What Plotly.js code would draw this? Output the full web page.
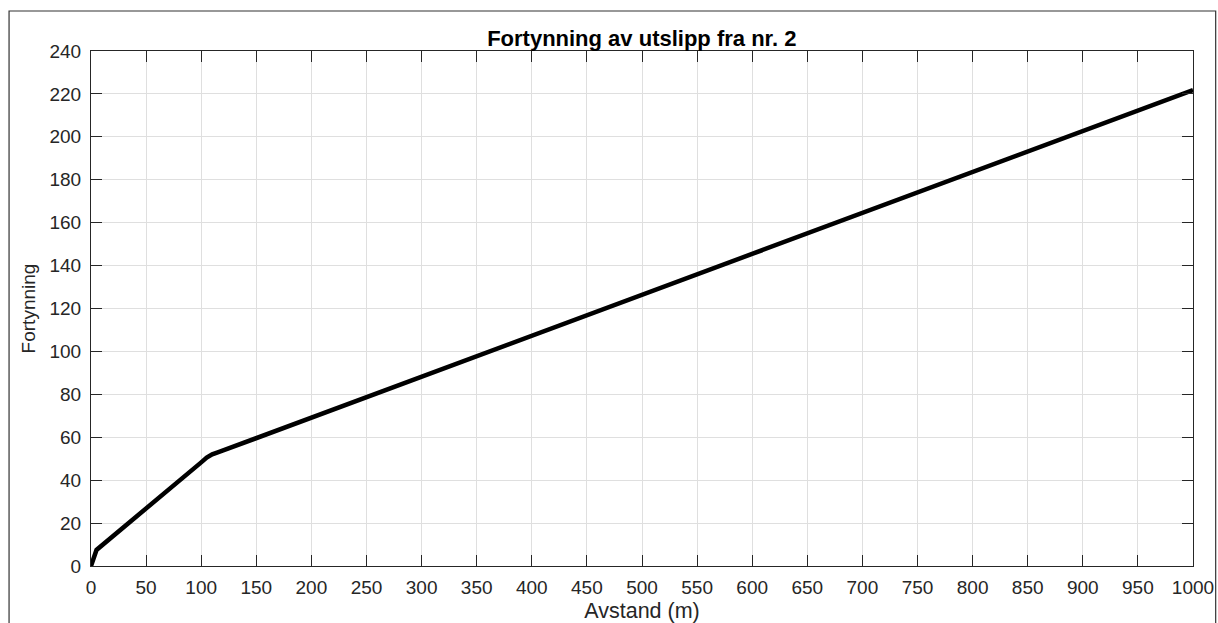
<!DOCTYPE html>
<html>
<head>
<meta charset="utf-8">
<script src="https://cdn.plot.ly/plotly-3.0.1.min.js"></script>
<style>
html,body{margin:0;padding:0;background:#fff;}
#chart{width:1218px;height:623px;}
</style>
</head>
<body>
<div id="chart"></div>
<script>
// Data
const avstand = [0, 5, 100, 105, 110, 115, 1000];
const fortynning = [0, 7.5, 48.3, 50.5, 52.0, 52.9, 221.8];
const xTicks = [0,50,100,150,200,250,300,350,400,450,500,550,600,650,700,750,800,850,900,950,1000];
const yTicks = [0,20,40,60,80,100,120,140,160,180,200,220,240];
const titleText = "Fortynning av utslipp fra nr. 2";
const xLabel = "Avstand (m)";
const yLabel = "Fortynning";

const axisColor = "#262626";
const gridColor = "#dfdfdf";
const fontFam = "Liberation Sans, Arial, sans-serif";

const trace = {
  x: avstand, y: fortynning, type: "scatter", mode: "lines",
  line: {color: "#000000", width: 4.5}, hoverinfo: "skip"
};

const layout = {
  width: 1218, height: 623,
  margin: {l: 90.5, r: 24.7, t: 51, b: 57.3, pad: 0},
  paper_bgcolor: "#ffffff", plot_bgcolor: "#ffffff",
  showlegend: false,
  font: {family: fontFam, color: axisColor, size: 19},
  title: {
    text: "<b>" + titleText + "</b>",
    font: {family: fontFam, size: 22, color: "#000000"},
    x: 0.5269, xref: "container", xanchor: "center",
    y: 1 - 38/623, yref: "container", yanchor: "middle"
  },
  xaxis: {
    range: [0, 1000], tickvals: xTicks, ticktext: xTicks.map(String),
    showgrid: true, gridcolor: gridColor, gridwidth: 1,
    zeroline: false, showline: true, linecolor: axisColor, linewidth: 1,
    mirror: "ticks", ticks: "inside", ticklen: 11, tickcolor: axisColor, tickwidth: 1,
    tickfont: {size: 19, color: axisColor, family: fontFam},
    ticklabelstandoff: 4,
    title: {text: xLabel, font: {size: 21.5, color: axisColor, family: fontFam}, standoff: 7}
  },
  yaxis: {
    range: [0, 240], tickvals: yTicks, ticktext: yTicks.map(String),
    showgrid: true, gridcolor: gridColor, gridwidth: 1,
    zeroline: false, showline: true, linecolor: axisColor, linewidth: 1,
    mirror: "ticks", ticks: "inside", ticklen: 11, tickcolor: axisColor, tickwidth: 1,
    tickfont: {size: 19, color: axisColor, family: fontFam},
    ticklabelstandoff: 5,
    title: {text: yLabel, font: {size: 19, color: axisColor, family: fontFam}, standoff: 8}
  },
  shapes: [{
    type: "rect", xref: "paper", yref: "paper",
    x0: (8.5 - 90.5)/1102.8, x1: (1216 - 90.5)/1102.8,
    y0: -0.3, y1: (565.7 - 11)/514.7,
    line: {color: "#333333", width: 1.2}, fillcolor: "rgba(0,0,0,0)", layer: "below"
  }]
};

Plotly.newPlot("chart", [trace], layout, {displayModeBar: false, staticPlot: true});
</script>
</body>
</html>
